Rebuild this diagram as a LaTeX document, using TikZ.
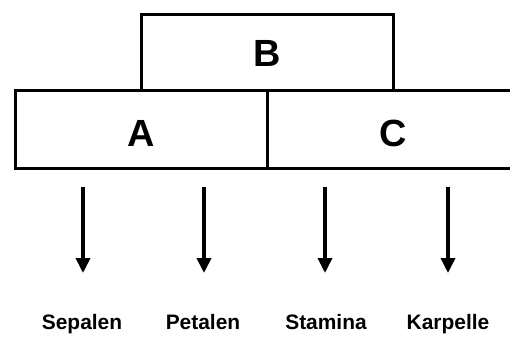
\documentclass[tikz,border=0pt]{standalone}
\usepackage{fontspec}
\setmainfont{Liberation Sans}
\usetikzlibrary{arrows.meta}
\begin{document}
\begin{tikzpicture}[x=1bp,y=-1bp,
  whorl/.style={draw=black, line width=3bp, inner sep=0pt, anchor=north west},
  gene/.style={inner sep=0pt, anchor=base, font=\bfseries\fontsize{38}{40}\selectfont},
  organ/.style={inner sep=0pt, anchor=base, font=\bfseries\fontsize{21}{24}\selectfont},
  arr/.style={line width=3.5bp, -{Triangle[width=14bp,length=15bp]}}]
  \useasboundingbox (0,0) rectangle (510,336);
  \clip (0,0) rectangle (510,336);
  % ABC model: three overlapping gene-function domains
  \node[whorl, minimum width=252bp, minimum height=76bp] (B) at (140,13) {};
  \node[whorl, minimum width=252bp, minimum height=78bp] (A) at (14,89) {};
  \node[whorl, minimum width=252bp, minimum height=78bp] (C) at (266,89) {};
  \node[gene] (lB) at ([yshift=-14bp]B.center) {B};
  \node[gene] (lA) at ([yshift=-17bp]A.center) {A};
  \node[gene] (lC) at ([yshift=-17bp]C.center) {C};
  % floral organs
  \node[organ] (o1) at (82,329) {Sepalen};
  \node[organ] (o2) at (203,329) {Petalen};
  \node[organ] (o3) at (326,329) {Stamina};
  \node[organ] (o4) at (448,329) {Karpelle};
  \foreach \i/\x in {1/83,2/204,3/325,4/448}{
    \coordinate (t\i) at (\x,187);
    \coordinate (h\i) at (\x,273);
    \draw[arr] (t\i) -- (h\i);
  }
\end{tikzpicture}
\end{document}
